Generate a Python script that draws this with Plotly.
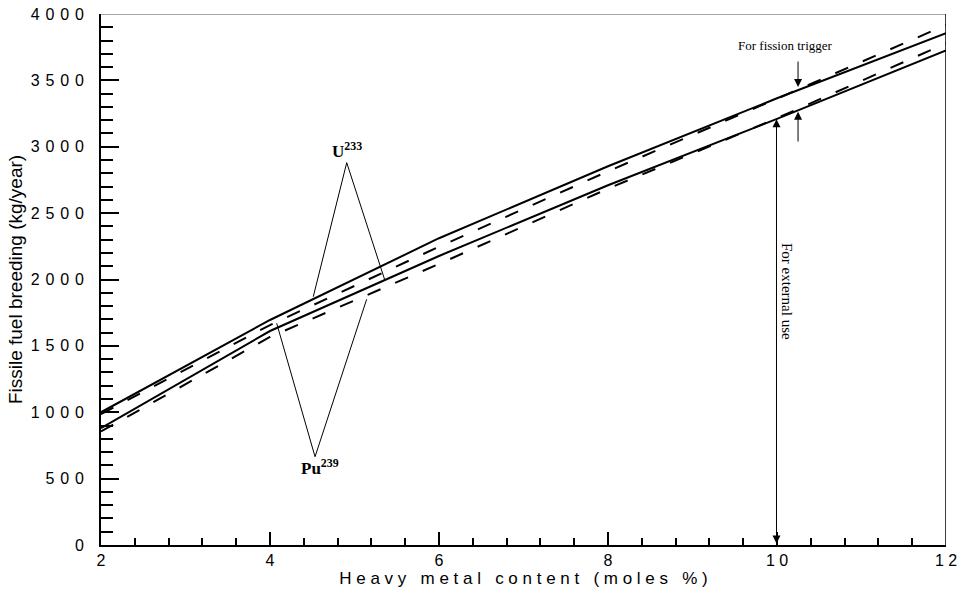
import plotly.graph_objects as go

# ---------------- data ----------------
x_content = [2, 4, 6, 8, 10, 12]
u233_solid = [1000, 1695, 2311, 2853, 3365, 3855]
u233_dashed = [985, 1657, 2247, 2815, 3362, 3917]
pu239_solid = [880, 1612, 2177, 2710, 3210, 3725]
pu239_dashed = [855, 1567, 2117, 2684, 3215, 3779]

y_tick_vals = [0, 500, 1000, 1500, 2000, 2500, 3000, 3500, 4000]
x_tick_vals = [2, 4, 6, 8, 10, 12]

# label leader lines (left end, apex, right end)
u_leader_x = [4.512, 4.908, 5.361]
u_leader_y = [1870, 2880, 1991]
pu_leader_x = [4.079, 4.533, 5.144]
pu_leader_y = [1670, 665, 1851]


def spaced(s, sep=" \u200a"):
    return sep.join(list(s))


fig = go.Figure()

line_w = 2
fig.add_trace(go.Scatter(x=x_content, y=u233_solid, mode="lines",
                         line=dict(color="black", width=line_w), showlegend=False))
fig.add_trace(go.Scatter(x=x_content, y=u233_dashed, mode="lines",
                         line=dict(color="black", width=line_w, dash="14px,16px"), showlegend=False))
fig.add_trace(go.Scatter(x=x_content, y=pu239_solid, mode="lines",
                         line=dict(color="black", width=line_w), showlegend=False))
fig.add_trace(go.Scatter(x=x_content, y=pu239_dashed, mode="lines",
                         line=dict(color="black", width=line_w, dash="14px,16px"), showlegend=False))

fig.add_trace(go.Scatter(x=u_leader_x, y=u_leader_y, mode="lines",
                         line=dict(color="black", width=1), showlegend=False))
fig.add_trace(go.Scatter(x=pu_leader_x, y=pu_leader_y, mode="lines",
                         line=dict(color="black", width=1), showlegend=False))

serif = "Liberation Serif, Times New Roman, serif"
sans = "Liberation Sans, Arial, sans-serif"

annotations = [
    dict(x=4.908, y=2880, text="<b>U<sup>233</sup></b>", showarrow=False,
         yanchor="bottom", xanchor="center", yshift=0, xshift=0,
         font=dict(family=serif, size=17, color="black")),
    dict(x=4.533, y=665, text="<b>Pu<sup>239</sup></b>", showarrow=False,
         yanchor="top", xanchor="center", yshift=3, xshift=5,
         font=dict(family=serif, size=17, color="black")),
    dict(x=10.095, y=3766, text="For fission trigger", showarrow=False,
         xanchor="center", yanchor="middle",
         font=dict(family=serif, size=13, color="black")),
    dict(x=10.118, y=1906, text="For external use", showarrow=False,
         textangle=90, xanchor="center", yanchor="middle",
         font=dict(family=serif, size=15, color="black")),
    # down arrow to upper line
    dict(x=10.249, y=3450, ax=10.249, ay=3653, axref="x", ayref="y",
         text="", showarrow=True, arrowhead=2, arrowsize=1.6, arrowwidth=1, arrowcolor="black"),
    # up arrow to lower line
    dict(x=10.249, y=3264, ax=10.249, ay=3028, axref="x", ayref="y",
         text="", showarrow=True, arrowhead=2, arrowsize=1.6, arrowwidth=1, arrowcolor="black"),
    # double arrow for external use
    dict(x=9.994, y=3207, ax=9.994, ay=0, axref="x", ayref="y",
         text="", showarrow=True, arrowhead=2, startarrowhead=2, arrowside="end+start",
         arrowsize=1.6, startarrowsize=1.6, arrowwidth=1, arrowcolor="black"),
]

fig.update_layout(
    width=958, height=593,
    margin=dict(l=101, r=12, t=14, b=48),
    paper_bgcolor="white", plot_bgcolor="white",
    annotations=annotations,
    shapes=[
        dict(type="line", xref="x", yref="y", x0=2, x1=12, y0=4000, y1=4000,
             line=dict(color="#555555", width=1.2), layer="above"),
        dict(type="line", xref="x", yref="y", x0=12, x1=12, y0=0, y1=4000,
             line=dict(color="black", width=1.5), layer="above"),
    ],
)

fig.update_xaxes(
    range=[2, 12], showgrid=False, zeroline=False, automargin=False,
    showline=True, linecolor="black", linewidth=2,
    ticks="inside", ticklen=13, tickwidth=1.5, tickcolor="black",
    tickvals=x_tick_vals, ticktext=[spaced(str(v), " ") for v in x_tick_vals],
    ticklabeloverflow="allow",
    minor=dict(ticks="inside", ticklen=7, tickwidth=1.5, tickcolor="black", dtick=0.4, tick0=2, showgrid=False),
    tickfont=dict(family=sans, size=16, color="black"),
    title=dict(text=spaced("Heavy metal content (moles %)", " "), standoff=1,
               font=dict(family=sans, size=17, color="black")),
)
fig.update_yaxes(
    range=[0, 4000], showgrid=False, zeroline=False, automargin=False,
    showline=True, linecolor="black", linewidth=2,
    ticks="inside", ticklen=18, tickwidth=1.5, tickcolor="black",
    tickvals=y_tick_vals, ticktext=[spaced(str(v)) for v in y_tick_vals],
    ticklabelstandoff=12, ticklabeloverflow="allow",
    minor=dict(ticks="inside", ticklen=12, tickwidth=1.5, tickcolor="black", dtick=100, tick0=0, showgrid=False),
    tickfont=dict(family=sans, size=16, color="black"),
    title=dict(text="Fissile fuel breeding (kg/year)", standoff=3,
               font=dict(family=sans, size=19, color="black")),
)

fig.write_html(
    "out.html",
    config={"displayModeBar": False},
    post_script="document.body.style.margin='0';document.body.style.overflow='hidden';",
)
